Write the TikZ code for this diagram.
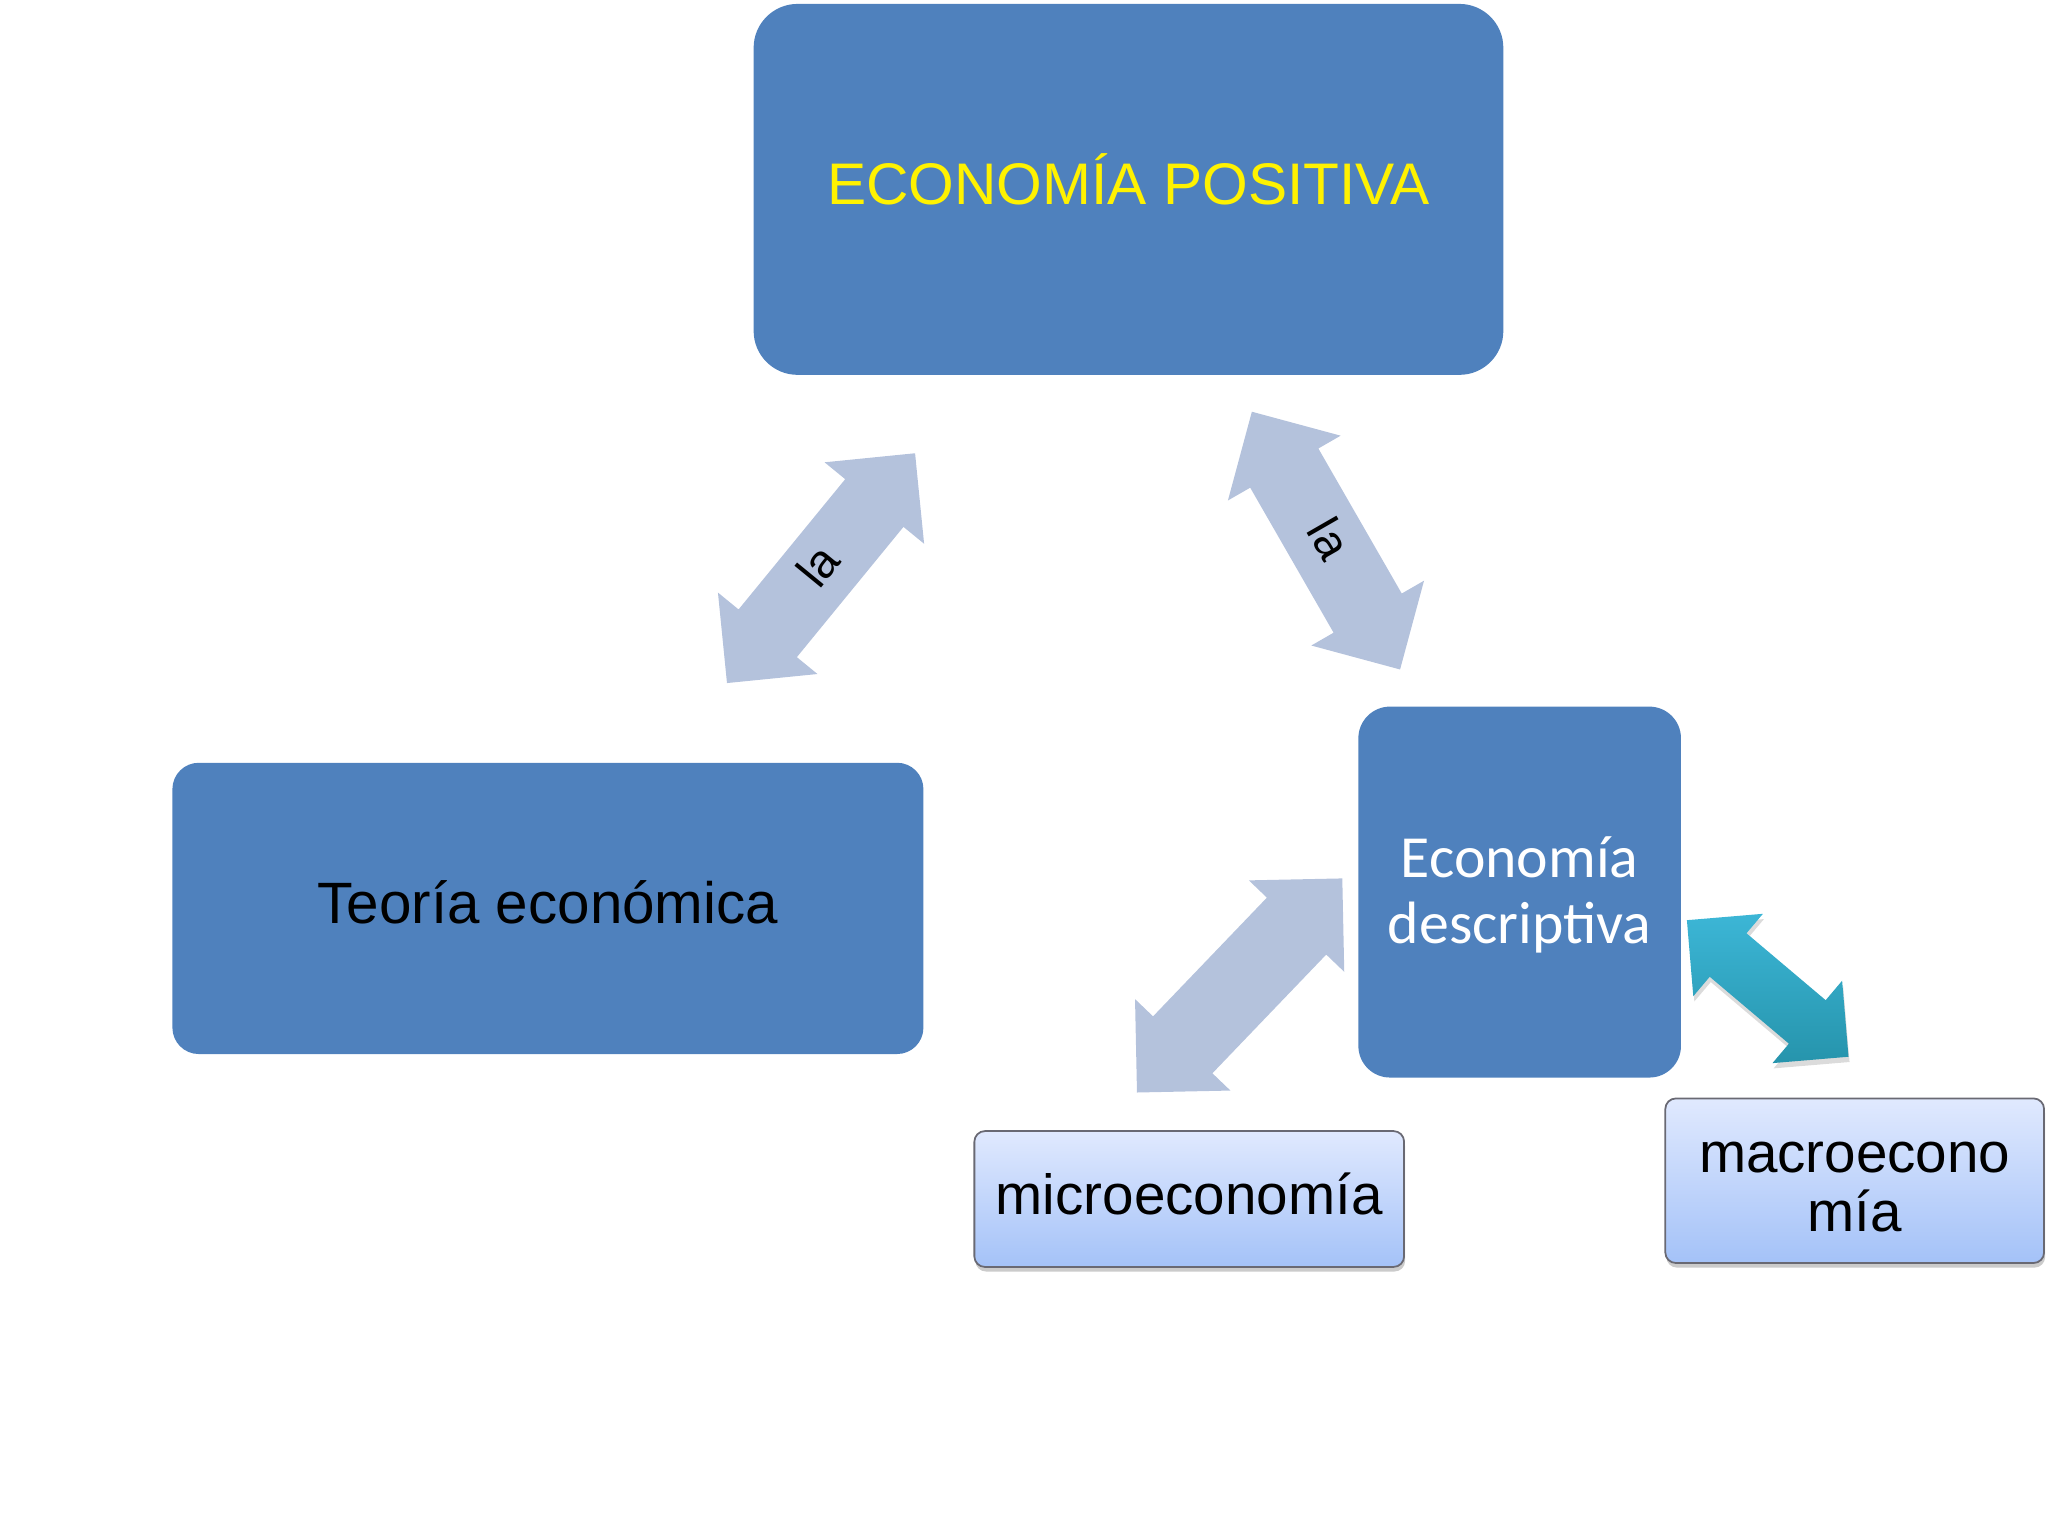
\documentclass[tikz,border=0pt]{standalone}
\usepackage{fontspec}
\setmainfont{Liberation Sans}
\newfontfamily\calibrifont{Carlito}
\usetikzlibrary{shapes.arrows,shadows}
\definecolor{boxblue}{RGB}{79,129,189}
\definecolor{arrowgray}{RGB}{180,194,220}
\definecolor{tealL}{RGB}{60,182,214}
\definecolor{tealD}{RGB}{38,148,172}
\definecolor{lbTop}{RGB}{224,233,254}
\definecolor{lbBot}{RGB}{164,194,248}
\definecolor{lbBorder}{RGB}{105,105,115}
\def\u{0.37163pt}
\begin{document}
\begin{tikzpicture}[x=0.013061cm,y=-0.013061cm,
  bluebox/.style={draw=none, fill=boxblue, inner sep=0pt, align=center},
  lightbox/.style={draw=lbBorder, line width=0.5pt, top color=lbTop, bottom color=lbBot,
    rounded corners=3pt, inner sep=0pt, align=center, text=black,
    drop shadow={shadow xshift=0.3pt, shadow yshift=-1.3pt, fill=black!45, opacity=0.45}},
  arialtext/.style={text height=0.905em, text depth=0.03em},
  plaintext/.style={inner sep=0pt, align=center},
  dblarrow/.style={shape=double arrow, double arrow tip angle=90, inner xsep=0pt,
    draw=none, fill=arrowgray, font=\fontsize{13.5}{15}\selectfont,
    text height=0.72em, text depth=0pt}
]
\useasboundingbox (0,0) rectangle (1568,1176);

% main boxes
\node[bluebox, rounded corners=12.5pt, minimum width=574*\u, minimum height=284*\u,
  text=yellow, arialtext, font=\fontsize{16.7}{20}\selectfont] (pos) at (864,145) {ECONOMÍA POSITIVA};
\node[bluebox, rounded corners=7.5pt, minimum width=575*\u, minimum height=223*\u,
  text=black, arialtext, font=\fontsize{16.6}{20}\selectfont] (teo) at (419.5,695.5) {Teoría económica};
\node[bluebox, rounded corners=9pt, minimum width=247*\u, minimum height=284*\u] (desc) at (1163.5,683) {};
\node[plaintext, text=white, font=\calibrifont\fontsize{17}{19}\selectfont]
  (desctext) at ([yshift=-0.8pt]desc.center) {Economía\\descriptiva};

% light boxes
\node[lightbox, minimum width=329*\u, minimum height=104*\u, arialtext,
  font=\fontsize{16.1}{18}\selectfont] (micro) at (910.5,918) {microeconomía};
\node[lightbox, minimum width=290*\u, minimum height=126*\u] (macro) at (1420,904) {};
\node[plaintext, text=black, font=\fontsize{16.1}{16.8}\selectfont]
  (macrotext) at ([yshift=-1.7pt]macro.center) {macroecono\\mía};

% block arrows
\node[dblarrow, minimum height=84.5pt, minimum width=36.6pt, double arrow head extend=7.15pt,
  inner ysep=6.3pt, rotate=50.7] (a1) at (628.6,435) {la};
\node[dblarrow, minimum height=84.6pt, minimum width=37.0pt, double arrow head extend=6.9pt,
  inner ysep=6.75pt, rotate=-60.1] (a2) at (1015.2,413.9) {la};
\node[dblarrow, minimum height=84.4pt, minimum width=37.3pt, double arrow head extend=7.1pt,
  text height=0pt, inner ysep=11.5pt, rotate=46.2] (a3) at (949.1,754.5) {};
\node[dblarrow, minimum height=60.2pt, minimum width=30.3pt, double arrow head extend=7.25pt,
  text height=0pt, inner ysep=7.9pt,
  rotate=-40.2, fill=none, top color=tealL, bottom color=tealD,
  drop shadow={shadow xshift=0.3pt, shadow yshift=-1.5pt, fill=black!40, opacity=0.35}] (a4) at (1353.4,756.8) {};
\end{tikzpicture}
\end{document}
